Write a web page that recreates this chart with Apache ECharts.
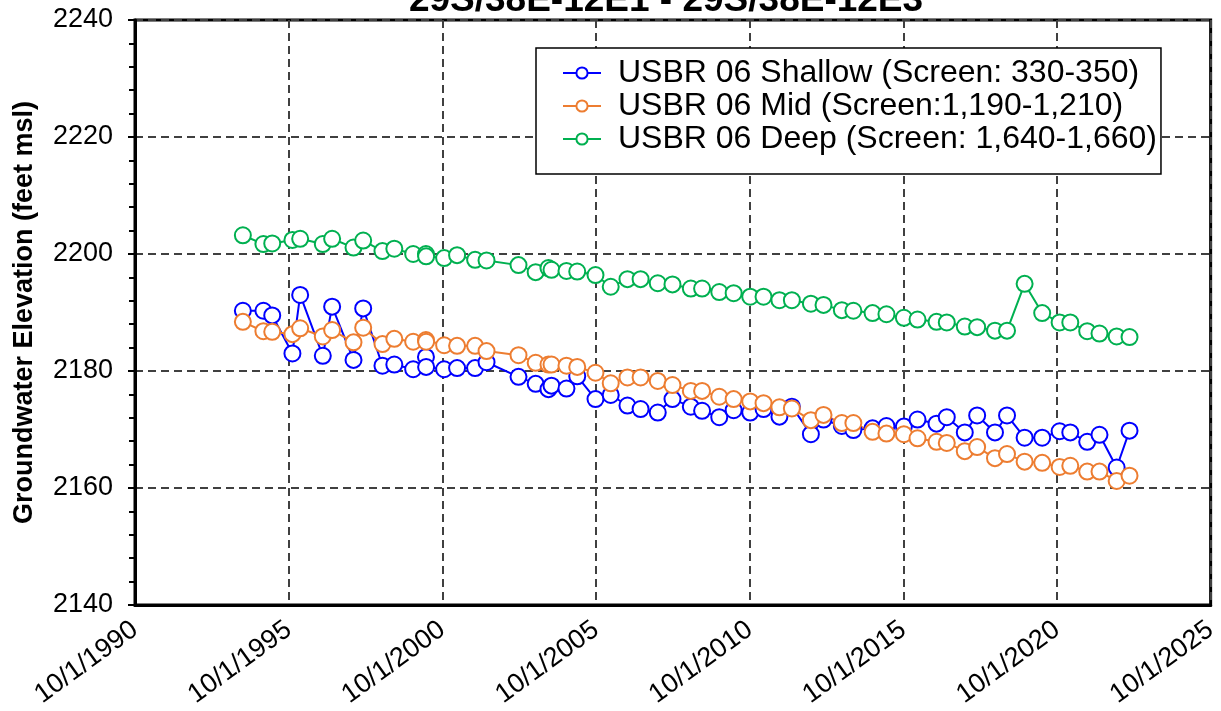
<!DOCTYPE html>
<html>
<head>
<meta charset="utf-8">
<script src="https://cdn.jsdelivr.net/npm/echarts@6/dist/echarts.min.js"></script>
<style>
  html, body { margin: 0; padding: 0; background: #fff; }
  #chart { width: 1221px; height: 711px; }
</style>
</head>
<body>
<div id="chart"></div>
<script>
// Sampling dates shared by the three nested piezometers
const sampleDates = [
  '1994-04-05', '1994-12-05', '1995-03-20', '1995-11-15', '1996-02-15', '1996-11-10',
  '1997-03-01', '1997-11-10', '1998-03-05', '1998-10-20', '1999-03-10', '1999-10-20',
  '2000-03-20', '2000-03-22', '2000-10-22', '2001-03-25', '2001-10-25', '2002-03-10',
  '2003-03-25', '2003-10-15', '2004-03-15', '2004-04-20', '2004-10-15', '2005-02-20',
  '2005-09-25', '2006-03-25', '2006-10-10', '2007-03-15', '2007-10-05', '2008-03-28',
  '2008-11-01', '2009-03-15', '2009-10-05', '2010-03-25', '2010-10-08', '2011-03-15',
  '2011-09-20', '2012-02-15', '2012-09-28', '2013-02-25', '2013-10-01', '2014-02-15',
  '2014-10-01', '2015-03-15', '2015-10-08', '2016-03-18', '2016-10-30', '2017-03-01',
  '2017-10-01', '2018-02-25', '2018-09-25', '2019-02-15', '2019-09-12', '2020-04-08',
  '2020-11-01', '2021-03-08', '2021-09-25', '2022-02-18', '2022-09-10', '2023-02-10'
];

// Groundwater elevations, feet msl
const shallowElev = [
  2190.3, 2190.3, 2189.5, 2183.0, 2193.0, 2182.6,
  2191.0, 2181.9, 2190.7, 2180.9, 2181.1, 2180.3,
  2182.4, 2180.7, 2180.3, 2180.5, 2180.5, 2181.5,
  2179.0, 2177.8, 2176.9, 2177.5, 2177.0, 2179.1,
  2175.2, 2175.9, 2174.1, 2173.5, 2172.9, 2175.2,
  2173.9, 2173.2, 2172.1, 2173.3, 2172.9, 2173.5,
  2172.2, 2173.9, 2169.2, 2171.7, 2170.6, 2169.9,
  2170.2, 2170.6, 2170.5, 2171.7, 2171.0, 2172.1,
  2169.5, 2172.4, 2169.5, 2172.4, 2168.6, 2168.6,
  2169.7, 2169.5, 2167.9, 2169.1, 2163.5, 2169.8
];
const midElev = [
  2188.4, 2186.8, 2186.7, 2186.3, 2187.3, 2185.9,
  2187.0, 2184.9, 2187.4, 2184.6, 2185.5, 2185.0,
  2185.3, 2185.0, 2184.4, 2184.3, 2184.3, 2183.4,
  2182.7, 2181.4, 2181.1, 2181.1, 2180.9, 2180.7,
  2179.7, 2177.9, 2178.9, 2178.9, 2178.3, 2177.6,
  2176.6, 2176.6, 2175.6, 2175.2, 2174.8, 2174.5,
  2173.8, 2173.6, 2171.6, 2172.5, 2171.1, 2171.1,
  2169.6, 2169.3, 2169.2, 2168.5, 2167.9, 2167.7,
  2166.3, 2167.0, 2165.1, 2165.8, 2164.5, 2164.3,
  2163.6, 2163.8, 2162.8, 2162.8, 2161.2, 2162.1
];
const deepElev = [
  2203.2, 2201.7, 2201.8, 2202.4, 2202.6, 2201.7,
  2202.6, 2201.1, 2202.3, 2200.5, 2200.9, 2200.0,
  2200.0, 2199.6, 2199.3, 2199.8, 2199.0, 2198.9,
  2198.1, 2196.9, 2197.6, 2197.3, 2197.1, 2197.0,
  2196.4, 2194.4, 2195.7, 2195.7, 2195.0, 2194.8,
  2194.1, 2194.1, 2193.5, 2193.3, 2192.7, 2192.7,
  2192.1, 2192.1, 2191.5, 2191.3, 2190.4, 2190.3,
  2189.9, 2189.7, 2189.1, 2188.8, 2188.4, 2188.3,
  2187.6, 2187.5, 2186.9, 2186.9, 2194.9, 2189.9,
  2188.3, 2188.3, 2186.8, 2186.4, 2185.9, 2185.8
];

const seriesNames = [
  'USBR 06 Shallow (Screen: 330-350)',
  'USBR 06 Mid (Screen:1,190-1,210)',
  'USBR 06 Deep (Screen: 1,640-1,660)'
];
const seriesColors = ['#0000FF', '#ED7D31', '#00B050'];

// Date axis runs 10/1/1990 – 10/1/2025, labelled every five years
const axisStart = '1990-10-01';
const axisEnd = '2025-10-01';
const yearStep = 5;

const DAY = 86400000;
function toUTC(s) {
  const p = s.split('-').map(Number);
  return Date.UTC(p[0], p[1] - 1, p[2]);
}
const originMs = toUTC(axisStart);
function dayOffset(s) { return Math.round((toUTC(s) - originMs) / DAY); }
const axisSpan = dayOffset(axisEnd);
const tickCount = (Number(axisEnd.slice(0, 4)) - Number(axisStart.slice(0, 4))) / yearStep;

function fmtDate(v) {
  const d = new Date(originMs + Math.round(v) * DAY);
  return (d.getUTCMonth() + 1) + '/' + d.getUTCDate() + '/' + d.getUTCFullYear();
}

const FONT = 'Arial, "Liberation Sans", sans-serif';

function buildSeries(i, values) {
  return {
    name: seriesNames[i],
    type: 'line',
    data: sampleDates.map((d, k) => [dayOffset(d), values[k]]),
    symbol: 'emptyCircle',
    symbolSize: 16,
    showAllSymbol: true,
    lineStyle: { color: seriesColors[i], width: 2 },
    itemStyle: { color: seriesColors[i], borderColor: seriesColors[i], borderWidth: 2.6 },
    emphasis: { disabled: true },
    animation: false
  };
}

const chart = echarts.init(document.getElementById('chart'), null, { renderer: 'canvas' });
chart.setOption({
  animation: false,
  backgroundColor: '#fff',
  title: {
    text: '29S/38E-12E1 - 29S/38E-12E3',
    left: 661,
    textAlign: 'center',
    top: -23,
    textStyle: { fontFamily: FONT, fontWeight: 'bold', fontSize: 37, color: '#000' }
  },
  grid: {
    left: 135, right: 9, top: 20, bottom: 106,
    show: true, borderColor: '#000', borderWidth: 3, backgroundColor: 'transparent'
  },
  legend: {
    orient: 'vertical',
    left: 536, top: 48,
    backgroundColor: '#fff',
    borderColor: '#000', borderWidth: 1.5, borderRadius: 0,
    padding: [9, 4, 19, 26],
    itemWidth: 38, itemHeight: 14, itemGap: 1,
    textStyle: { fontFamily: FONT, fontSize: 32, color: '#000', padding: [0, 0, 0, 12] },
    data: seriesNames
  },
  xAxis: {
    type: 'value',
    min: 0,
    max: axisSpan,
    interval: axisSpan / tickCount,
    axisLine: { show: true, lineStyle: { color: '#000', width: 3 } },
    axisTick: { show: false },
    axisLabel: {
      rotate: 36, margin: 22,
      fontFamily: FONT, fontSize: 27, color: '#000',
      formatter: fmtDate
    },
    splitLine: { show: true, lineStyle: { color: '#404040', width: 2, type: [8, 5] } }
  },
  yAxis: {
    type: 'value',
    min: 2140, max: 2240, interval: 20,
    name: 'Groundwater Elevation (feet msl)',
    nameLocation: 'middle',
    nameGap: 97,
    nameTextStyle: { fontFamily: FONT, fontWeight: 'bold', fontSize: 27, color: '#000' },
    axisLine: { show: true, lineStyle: { color: '#000', width: 3 } },
    axisTick: { show: true, inside: false, length: 7, lineStyle: { color: '#000', width: 2 } },
    minorTick: { show: true, splitNumber: 5, length: 6, lineStyle: { color: '#000', width: 2 } },
    axisLabel: {
      margin: 22, fontFamily: FONT, fontSize: 27, color: '#000',
      formatter: v => String(v)
    },
    splitLine: { show: true, lineStyle: { color: '#404040', width: 2, type: [8, 5] } }
  },
  series: [
    buildSeries(0, shallowElev),
    buildSeries(1, midElev),
    buildSeries(2, deepElev)
  ]
});
</script>
</body>
</html>
